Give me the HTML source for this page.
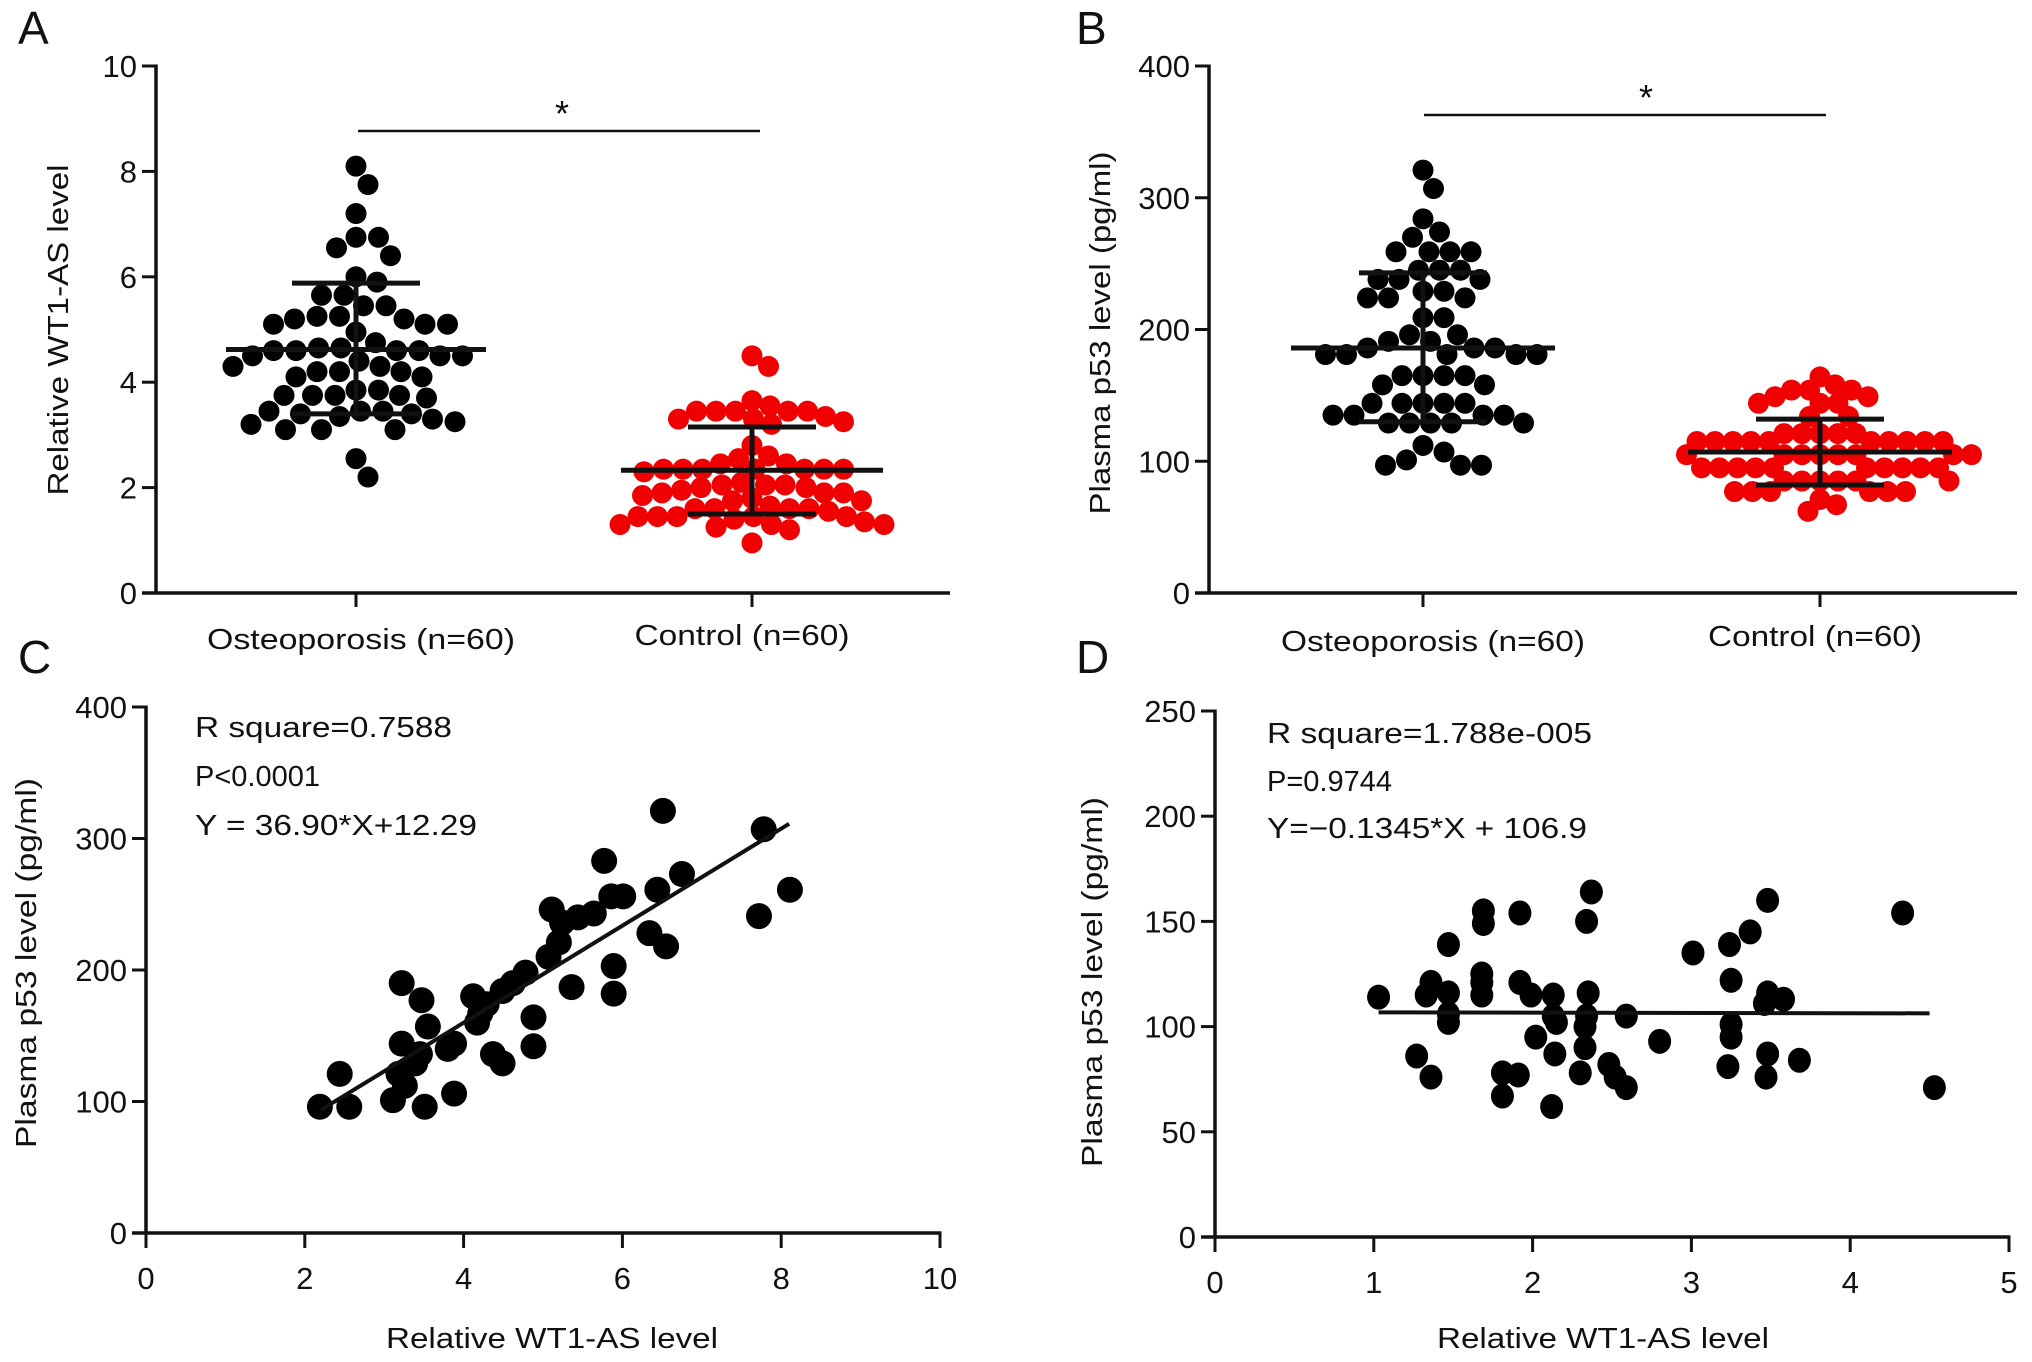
<!DOCTYPE html>
<html><head><meta charset="utf-8"><style>
html,body{margin:0;padding:0;background:#fff;}
svg{display:block;font-family:"Liberation Sans",Arial,sans-serif;}
</style></head><body>
<svg id="fig" width="2032" height="1362" viewBox="0 0 2032 1362" xmlns="http://www.w3.org/2000/svg">
<rect width="2032" height="1362" fill="#fff"/>
<g id="static" fill="#111" font-size="29">
 <text x="18" y="44" font-size="46">A</text>
 <text x="1076" y="44" font-size="46">B</text>
 <text x="18" y="673" font-size="46">C</text>
 <text x="1076" y="673" font-size="46">D</text>
 <text transform="translate(68,330) rotate(-90)" text-anchor="middle" textLength="331" lengthAdjust="spacingAndGlyphs">Relative WT1-AS level</text>
 <text transform="translate(1110,333) rotate(-90)" text-anchor="middle" textLength="363" lengthAdjust="spacingAndGlyphs">Plasma p53 level (pg/ml)</text>
 <text transform="translate(36,963) rotate(-90)" text-anchor="middle" textLength="370" lengthAdjust="spacingAndGlyphs">Plasma p53 level (pg/ml)</text>
 <text transform="translate(1102,982) rotate(-90)" text-anchor="middle" textLength="370" lengthAdjust="spacingAndGlyphs">Plasma p53 level (pg/ml)</text>
 <text x="552" y="1348" text-anchor="middle" textLength="332" lengthAdjust="spacingAndGlyphs">Relative WT1-AS level</text>
 <text x="1603" y="1348" text-anchor="middle" textLength="332" lengthAdjust="spacingAndGlyphs">Relative WT1-AS level</text>
 <text x="361" y="649" text-anchor="middle" textLength="308" lengthAdjust="spacingAndGlyphs">Osteoporosis (n=60)</text>
 <text x="742" y="645" text-anchor="middle" textLength="215" lengthAdjust="spacingAndGlyphs">Control (n=60)</text>
 <text x="1433" y="651" text-anchor="middle" textLength="304" lengthAdjust="spacingAndGlyphs">Osteoporosis (n=60)</text>
 <text x="1815" y="646" text-anchor="middle" textLength="214" lengthAdjust="spacingAndGlyphs">Control (n=60)</text>
 <line x1="358" y1="131" x2="760" y2="131" stroke="#111" stroke-width="2.5"/>
 <text x="562" y="126" text-anchor="middle" font-size="36">*</text>
 <line x1="1424" y1="115" x2="1826" y2="115" stroke="#111" stroke-width="2.5"/>
 <text x="1646" y="110" text-anchor="middle" font-size="36">*</text>
 <text x="195" y="737" textLength="257" lengthAdjust="spacingAndGlyphs">R square=0.7588</text>
 <text x="195" y="786">P&lt;0.0001</text>
 <text x="195" y="835" textLength="282" lengthAdjust="spacingAndGlyphs">Y = 36.90*X+12.29</text>
 <text x="1267" y="743" textLength="325" lengthAdjust="spacingAndGlyphs">R square=1.788e-005</text>
 <text x="1267" y="791">P=0.9744</text>
 <text x="1267" y="838" textLength="320" lengthAdjust="spacingAndGlyphs">Y=−0.1345*X + 106.9</text>
</g>
<g id="plots"></g>
</svg>
<script>
// ---- Panel A data ----
const aOsteo = [8.1,7.75,7.2,6.75,6.75,6.55,6.4,6.0,5.9,5.65,5.65,5.45,5.45,5.25,5.2,5.2,5.25,5.1,5.1,5.1,4.95,4.75,4.65,4.6,4.6,4.6,4.6,4.65,4.5,4.5,4.5,4.4,4.3,4.2,4.2,4.2,4.3,4.1,4.1,3.85,3.85,3.75,3.75,3.75,3.7,3.75,3.45,3.4,3.4,3.45,3.45,3.35,3.3,3.25,3.2,3.1,3.1,3.1,2.55,2.2];
const aControl = [4.5,4.3,3.65,3.55,3.45,3.45,3.45,3.45,3.45,3.35,3.3,3.3,3.25,3.2,2.8,2.6,2.55,2.45,2.45,2.35,2.35,2.35,2.35,2.35,2.35,2.35,2.05,2.05,2.1,2.05,2.0,1.95,1.9,1.9,1.9,1.85,1.8,1.75,1.65,1.6,1.6,1.6,1.6,1.55,1.45,1.45,1.45,1.45,1.45,1.4,1.35,1.3,1.3,1.3,1.25,1.2,0.95,1.75,2.0,2.3];
const aStats = {osteo:[4.62,3.4,5.88], control:[2.33,1.5,3.15]};
const aTicks = [0,2,4,6,8,10];
// ---- Panel B data ----
const bOsteo = [321,307,284,274,270,259,259,259,259,245,245,245,238,238,238,229,229,224,224,224,209,209,196,196,191,191,186,186,186,181,181,181,181,181,165,165,165,165,158,158,144,144,144,144,144,135,135,135,135,129,129,129,129,129,112,107,101,97,97,97];
const bControl = [164,158,154,154,154,149,149,144,144,144,134,134,121,121,121,121,121,115,115,115,115,115,115,115,115,115,115,105,105,105,105,105,105,105,105,95,95,95,95,95,95,95,95,95,95,85,85,85,85,85,85,77,77,77,77,77,77,71,67,62];
const bStats = {osteo:[186,130,243], control:[107,82,132]};
const bTicks = [0,100,200,300,400];
// ---- Panel C data ----
const cX = [2.19,2.44,2.56,3.11,3.22,3.22,3.18,3.26,3.39,3.45,3.47,3.51,3.55,3.80,3.88,3.88,4.12,4.17,4.21,4.29,4.37,4.49,4.49,4.62,4.78,4.88,4.88,5.07,5.11,5.20,5.24,5.36,5.44,5.64,5.77,5.86,5.89,5.89,6.01,6.34,6.44,6.51,6.55,6.75,7.72,7.78,8.11];
const cY = [96,121,96,101,190,144,121,112,129,136,177,96,157,140,144,106,180,160,167,174,136,129,184,190,198,164,142,210,246,221,236,187,240,243,283,256,203,182,256,228,261,321,218,273,241,307,261];
const cFit = [36.90,12.29,2.2,8.1];
const cXTicks = [0,2,4,6,8,10];
const cYTicks = [0,100,200,300,400];
// ---- Panel D data ----
const dX = [1.03,1.27,1.36,1.36,1.33,1.47,1.47,1.47,1.47,1.69,1.69,1.68,1.68,1.68,1.81,1.81,1.91,1.92,1.92,1.99,2.02,2.13,2.13,2.14,2.12,2.15,2.30,2.35,2.33,2.33,2.34,2.37,2.34,2.48,2.52,2.59,2.59,2.80,3.01,3.24,3.25,3.25,3.25,3.23,3.37,3.48,3.48,3.46,3.48,3.47,3.58,3.68,4.33,4.53];
const dY = [114,86,76,121,115,139,116,106,102,155,149,125,121,115,78,67,77,154,121,115,95,115,105,87,62,102,78,116,100,90,150,164,105,82,76,71,105,93,135,139,122,101,95,81,145,160,116,111,87,76,113,84,154,71];
const dFit = [-0.1345,106.9,1.03,4.5];
const dXTicks = [0,1,2,3,4,5];
const dYTicks = [0,50,100,150,200,250];

const NS='http://www.w3.org/2000/svg';
const root=document.getElementById('plots');
function mk(tag,attrs,parent){const e=document.createElementNS(NS,tag);for(const k in attrs)e.setAttribute(k,attrs[k]);(parent||root).appendChild(e);return e;}
function lin(d0,d1,r0,r1){return v=>r0+(v-d0)*(r1-r0)/(d1-d0);}
const INK='#111';

function yAxis(g,ax,y,ticks,name){
  const l=mk('line',{x1:ax,y1:y(ticks[ticks.length-1])-1.5,x2:ax,y2:y(0)+1.5,stroke:INK,'stroke-width':3.5},g);
  
  
  ticks.forEach(t=>{
    const tk=mk('line',{x1:ax-14,y1:y(t),x2:ax,y2:y(t),stroke:INK,'stroke-width':3},g);
    
    
    const tx=mk('text',{x:ax-19,y:y(t)+11,'text-anchor':'end','font-size':31,fill:INK},g);
    
    
    tx.textContent=t;
  });
}
function xAxisLine(g,x1,x2,yy,name){
  const l=mk('line',{x1:x1,y1:yy,x2:x2,y2:yy,stroke:INK,'stroke-width':3.5},g);
  
  
}
function swarm(vals,y,r,f){
  const sorted=vals.map(v=>y(v)).sort((a,b)=>a-b);
  const placed=[];const out=[];const D=2*r*f;
  sorted.forEach(py=>{
    let best=0;
    for(let k=0;k<400;k++){
      const dx=(k%2?1:-1)*Math.ceil(k/2)*1.5;
      if(placed.every(p=>(p[0]-dx)**2+(p[1]-py)**2>=D*D)){best=dx;break;}
    }
    placed.push([best,py]);out.push([best,py]);
  });
  return out;
}
function dotPlot(g,vals,cx,y,r,color,name,stats,mw,sw,f){
  swarm(vals,y,r,f).forEach(p=>{
    const c=mk('circle',{cx:cx+p[0],cy:p[1],r:r,fill:color},g);
    
    
  });
  const [m,lo,hi]=stats;
  const parts=[[cx-mw,y(m),cx+mw,y(m),'mean-line'],[cx-sw,y(lo),cx+sw,y(lo),'sd-low'],[cx-sw,y(hi),cx+sw,y(hi),'sd-high'],[cx,y(lo),cx,y(hi),'sd-whisker']];
  parts.forEach(q=>{
    const l=mk('line',{x1:q[0],y1:q[1],x2:q[2],y2:q[3],stroke:INK,'stroke-width':5},g);
    
    
  });
}
function catTick(g,x,yy,name){
  const t=mk('line',{x1:x,y1:yy,x2:x,y2:yy+14,stroke:INK,'stroke-width':3},g);
  
  
}

// Panel A
(function(){
  const g=mk('g',{});
  
  
  const y=lin(0,10,593,66);
  yAxis(g,156,y,aTicks,'panel-a');
  xAxisLine(g,142,950,593,'panel-a');
  catTick(g,356,593,'panel-a-osteo-tick');catTick(g,752,593,'panel-a-control-tick');
  dotPlot(g,aOsteo,356,y,10.5,'#000','panel-a-osteo',aStats.osteo,130,64,1.02);
  dotPlot(g,aControl,752,y,10.5,'#f00000','panel-a-control',aStats.control,131,64,0.88);
})();
// Panel B
(function(){
  const g=mk('g',{});
  
  
  const y=lin(0,400,593,66);
  yAxis(g,1209,y,bTicks,'panel-b');
  xAxisLine(g,1195,2017,593,'panel-b');
  catTick(g,1423,593,'panel-b-osteo-tick');catTick(g,1820,593,'panel-b-control-tick');
  dotPlot(g,bOsteo,1423,y,10.5,'#000','panel-b-osteo',bStats.osteo,132,64,1.0);
  dotPlot(g,bControl,1820,y,10.5,'#f00000','panel-b-control',bStats.control,132,64,0.8);
})();
function scatter(g,xs,ys,X,Y,xt,yt,fit,ax,ay,name,rx,ry){
  yAxis(g,ax,Y,yt,name);
  xAxisLine(g,ax-14,X(xt[xt.length-1])+1.5,ay,name);
  xt.forEach(t=>{
    const tk=mk('line',{x1:X(t),y1:ay,x2:X(t),y2:ay+15,stroke:INK,'stroke-width':3},g);
    
    
    const tx=mk('text',{x:X(t),y:ay+56,'text-anchor':'middle','font-size':31,fill:INK},g);
    
    
    tx.textContent=t;
  });
  xs.forEach((xv,i)=>{
    const c=mk('ellipse',{cx:X(xv),cy:Y(ys[i]),rx:rx,ry:ry,fill:'#000'},g);
    
    
  });
  const [s,b,x0,x1]=fit;
  const l=mk('line',{x1:X(x0),y1:Y(s*x0+b),x2:X(x1),y2:Y(s*x1+b),stroke:INK,'stroke-width':4},g);
  
  
}
// Panel C
(function(){
  const g=mk('g',{});
  
  
  scatter(g,cX,cY,lin(0,10,146,940),lin(0,400,1233,707),cXTicks,cYTicks,cFit,146,1233,'panel-c',13,13);
})();
// Panel D
(function(){
  const g=mk('g',{});
  
  
  scatter(g,dX,dY,lin(0,5,1215,2009),lin(0,250,1237,711),dXTicks,dYTicks,dFit,1215,1237,'panel-d',11.5,12.5);
})();
</script>
</body></html>
